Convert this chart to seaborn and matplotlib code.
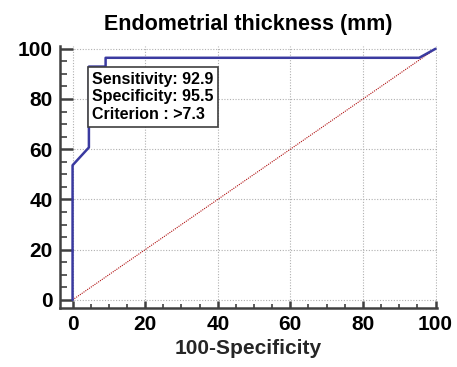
import matplotlib
matplotlib.use('Agg')
import matplotlib.pyplot as plt
from matplotlib.ticker import MultipleLocator
import seaborn as sns
import pandas as pd

# ROC curve points (100-Specificity, Sensitivity)
fpr = [0, 0, 4.5, 4.5, 9.1, 9.1, 95.5, 100]
tpr = [0, 53.6, 60.7, 92.9, 92.9, 96.4, 96.4, 100]
ref_line = [0, 100]
box_text = "Sensitivity: 92.9\nSpecificity: 95.5\nCriterion : >7.3"

sns.set_style("ticks")
plt.rcParams['font.family'] = ['Liberation Sans', 'DejaVu Sans']
plt.rcParams['font.weight'] = 'bold'
plt.rcParams['text.color'] = 'black'

fig = plt.figure(figsize=(4.57, 3.67), dpi=100)
ax = fig.add_axes([0.131, 0.161, 0.826, 0.713])

df = pd.DataFrame({'x': fpr, 'y': tpr})
sns.lineplot(x=ref_line, y=ref_line, ax=ax, color='#b01010', lw=0.8,
             linestyle=(0, (1, 1)))
sns.lineplot(data=df, x='x', y='y', ax=ax, sort=False, estimator=None,
             color='#3a3aa0', lw=1.8)

ax.set_xlim(-3.5, 100.5)
ax.set_ylim(-3.2, 101)
ax.xaxis.set_major_locator(MultipleLocator(20))
ax.yaxis.set_major_locator(MultipleLocator(20))
ax.xaxis.set_minor_locator(MultipleLocator(5))
ax.yaxis.set_minor_locator(MultipleLocator(5))
ax.grid(True, which='major', color='#b0b0b0', linestyle=(0, (1, 1.5)), lw=0.8)

for s in ['top', 'right']:
    ax.spines[s].set_visible(False)
for s in ['left', 'bottom']:
    ax.spines[s].set_color('#404040')
    ax.spines[s].set_linewidth(1.8)
ax.tick_params(which='both', direction='in', color='#404040',
               labelcolor='black', labelsize=15)
ax.tick_params(axis='y', which='major', length=9, width=1.8, pad=5)
ax.tick_params(axis='y', which='minor', length=5, width=1.2)
ax.tick_params(axis='x', which='major', length=5, width=1.8, pad=5)
ax.tick_params(axis='x', which='minor', length=3, width=1.2)
for lab in ax.get_xticklabels() + ax.get_yticklabels():
    lab.set_fontweight('bold')

ax.set_xlabel('100-Specificity', fontsize=15, fontweight='bold', labelpad=4)
ax.set_ylabel('')
ax.set_title('Endometrial thickness (mm)', fontsize=15.5, fontweight='bold', pad=12)

ax.text(5.4, 90.9, box_text, fontsize=11.5, fontweight='bold', va='top',
        ha='left', linespacing=1.24,
        bbox=dict(boxstyle='square,pad=0.28', fc='white', ec='#404040', lw=1.2))

fig.savefig('out.png', dpi=100)
